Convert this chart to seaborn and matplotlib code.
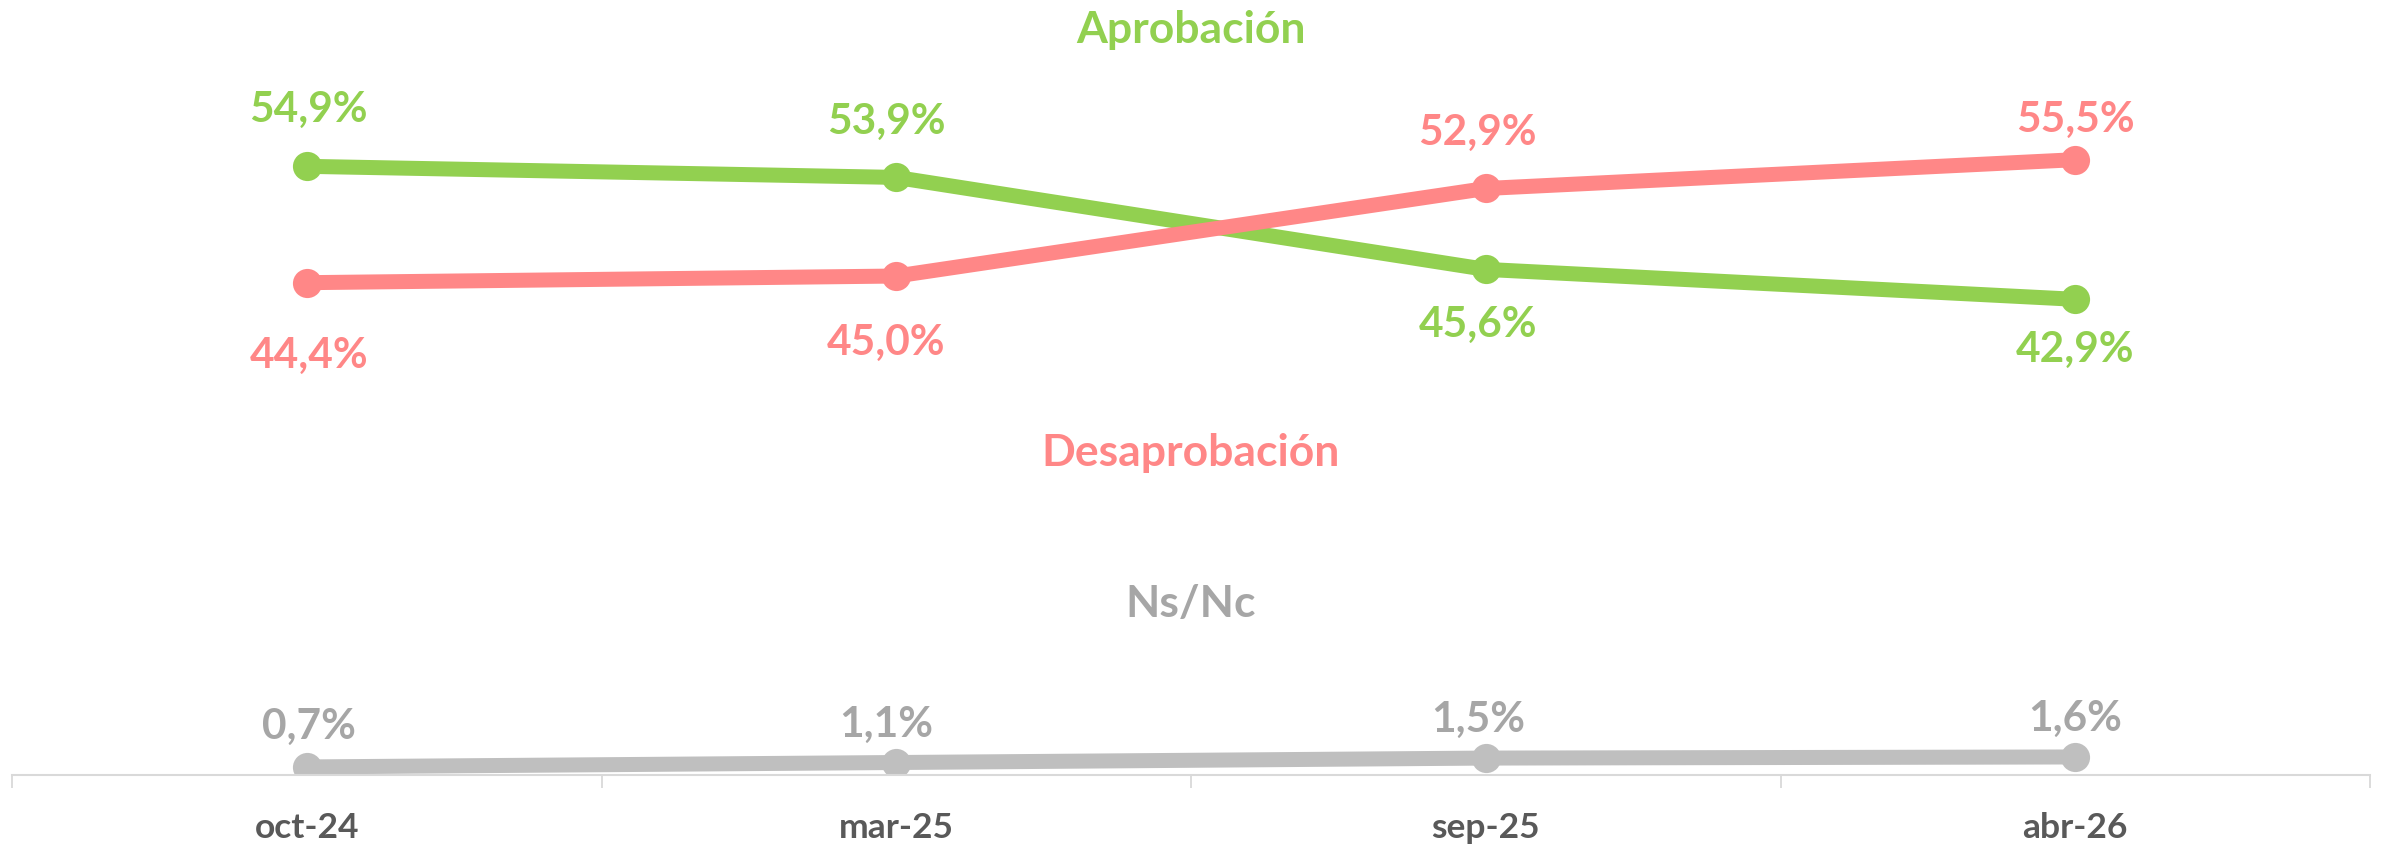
import numpy as np
import pandas as pd
import matplotlib
matplotlib.use("Agg")
import matplotlib.pyplot as plt
import seaborn as sns

# datos
meses = ["oct-24", "mar-25", "sep-25", "abr-26"]
aprobacion = [54.9, 53.9, 45.6, 42.9]
desaprobacion = [44.4, 45.0, 52.9, 55.5]
nsnc = [0.7, 1.1, 1.5, 1.6]
series = ["Aprobación", "Desaprobación", "Ns/Nc"]

colores = {"Aprobación": "#92D050", "Desaprobación": "#FF8787", "Ns/Nc": "#BFBFBF"}
colores_texto = {"Aprobación": "#92D050", "Desaprobación": "#FF8787", "Ns/Nc": "#A6A6A6"}

# desplazamiento de etiquetas (pixeles, respecto del punto, linea base del texto)
offsets = {
    "Aprobación": [(2, 45), (-10, 44), (-8, -67), (0, -62)],
    "Desaprobación": [(2, -84), (-10, -78), (-8, 45), (0, 29)],
    "Ns/Nc": [(2, 29), (-10, 27), (-8, 27), (0, 27)],
}
# posicion de los titulos de serie (y en unidades de datos, linea base)
titulo_y = {"Aprobación": 66.1, "Desaprobación": 27.95, "Ns/Nc": 14.3}

df = pd.DataFrame({
    "x": list(range(len(meses))) * 3,
    "valor": aprobacion + desaprobacion + nsnc,
    "serie": [s for s in series for _ in meses],
})

sns.set_theme(style="white")
plt.rcParams["font.family"] = ["Lato", "DejaVu Sans"]
plt.rcParams["font.weight"] = "bold"

fig = plt.figure(figsize=(23.9, 8.45), dpi=100)
ax = fig.add_axes([12 / 2390, 69.3 / 845, 2358 / 2390, 775.7 / 845])

for s in ["Ns/Nc", "Aprobación", "Desaprobación"]:
    sns.lineplot(data=df[df["serie"] == s], x="x", y="valor", color=colores[s],
                 linewidth=10.8, marker="o", markersize=21, markeredgewidth=0,
                 sort=False, ax=ax, legend=False)

# etiquetas de datos
for s in series:
    vals = df[df["serie"] == s]["valor"].tolist()
    for i, v in enumerate(vals):
        dx, dy = offsets[s][i]
        ax.annotate(f"{v:.1f}%".replace(".", ","), (i, v), xytext=(dx, dy),
                    textcoords="offset pixels", ha="center", va="baseline",
                    fontsize=30.5, fontweight="bold", color=colores_texto[s])

# titulos de serie
for s in series:
    ax.text(1.5, titulo_y[s], s, ha="center", va="baseline", fontsize=32,
            fontweight="bold", color=colores_texto[s])

ax.set_xlim(-0.5, len(meses) - 0.5)
ax.set_ylim(0, 70)
ax.set_xlabel("")
ax.set_ylabel("")
ax.set_yticks([])
ax.set_xticks(range(len(meses)))
ax.set_xticklabels(meses, fontsize=25.5, fontweight="bold", color="#595959")
ax.set_xticks(np.arange(-0.5, len(meses)), minor=True)
ax.tick_params(axis="x", which="major", bottom=True, length=0, pad=26)
ax.tick_params(axis="x", which="minor", bottom=True, length=9.4, width=1.3,
               color="#D9D9D9", direction="out")

for side in ["top", "left", "right"]:
    ax.spines[side].set_visible(False)
ax.spines["bottom"].set_color("#D9D9D9")
ax.spines["bottom"].set_linewidth(1.5)
ax.patch.set_alpha(0)

fig.savefig("out.png", dpi=100, facecolor="white")
